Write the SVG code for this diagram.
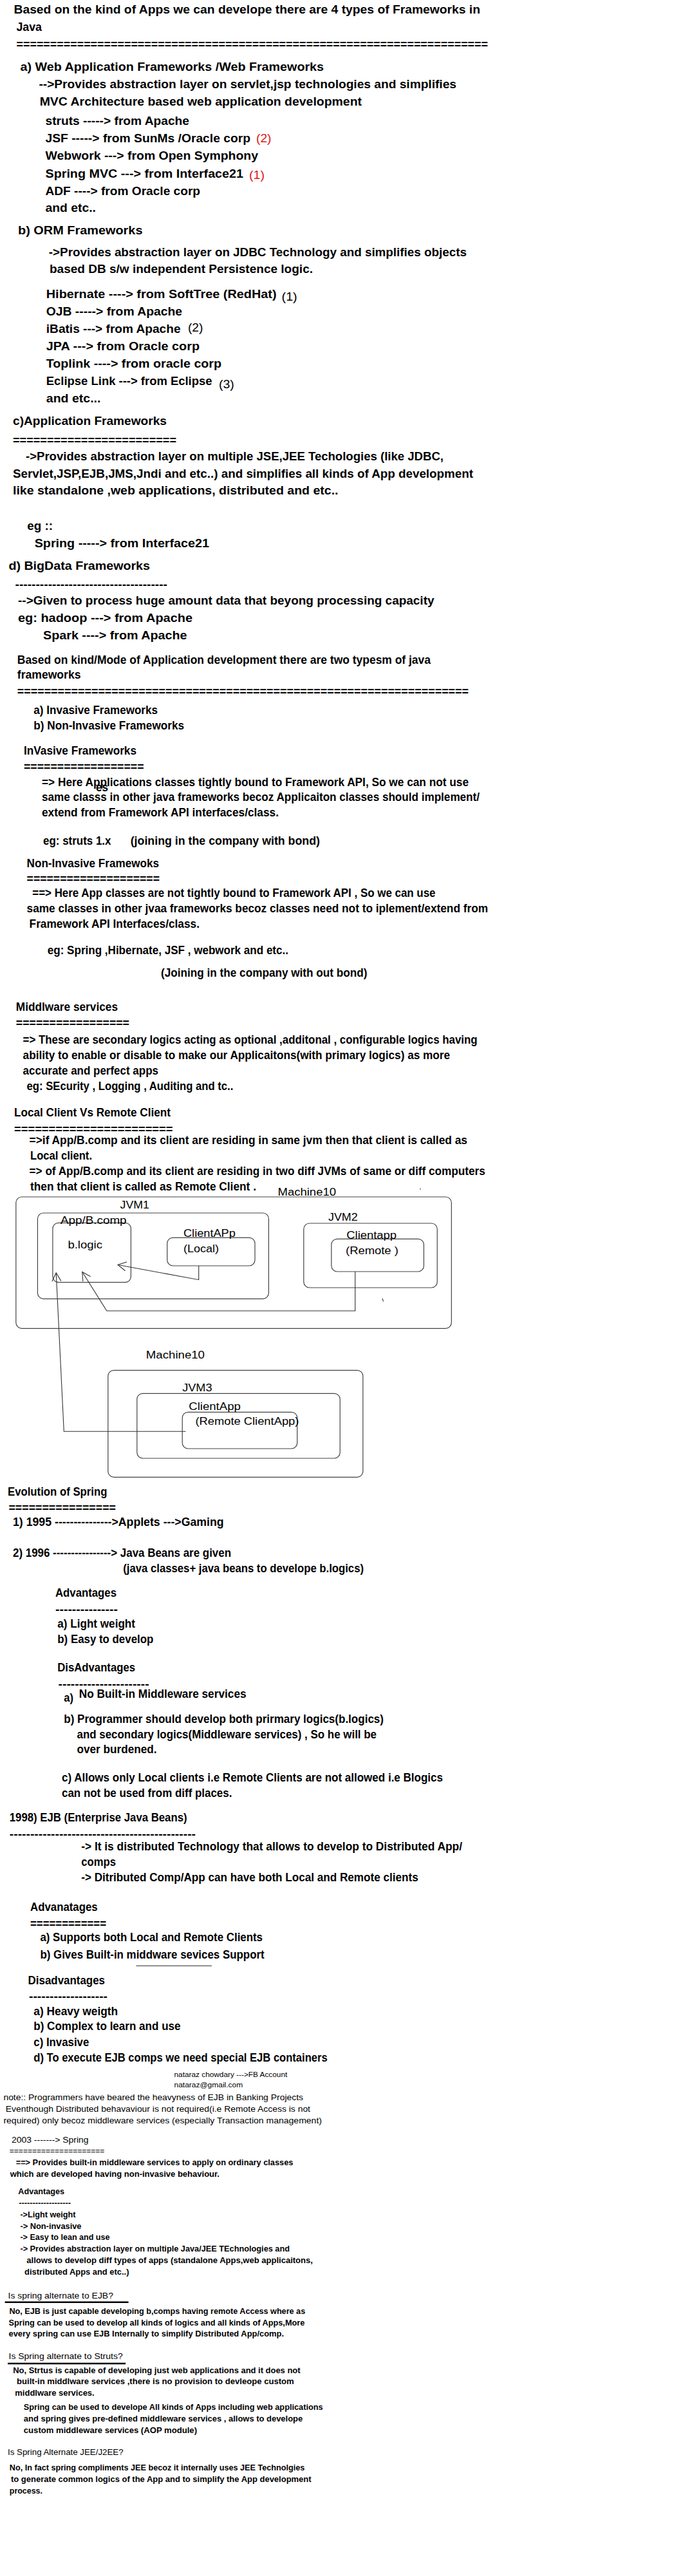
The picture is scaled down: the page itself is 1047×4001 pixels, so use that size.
<svg xmlns="http://www.w3.org/2000/svg" width="1047" height="4001" viewBox="0 0 1047 4001" xml:space="preserve">
<style>
text{font-family:"Liberation Sans",Arial,sans-serif;fill:#000;font-size:19px;font-weight:bold}
.r{font-weight:normal}
.red{fill:#e01818;font-weight:normal}
.lbl{font-size:16px;font-weight:normal}
.s{font-size:13px}
.sr{font-size:13px;font-weight:normal}
.n{font-size:12.5px;font-weight:normal}
.x{font-size:11px;font-weight:normal}
.box{fill:none;stroke:#444;stroke-width:1.2}
.con{fill:none;stroke:#333;stroke-width:1.1}
.ul{stroke:#000;stroke-width:2.5}
</style>
<defs>
<marker id="arr" markerUnits="userSpaceOnUse" markerWidth="18" markerHeight="18" refX="15" refY="9" orient="auto">
<path d="M2,2 L15,9 L2,16" fill="none" stroke="#333" stroke-width="1.1"/>
</marker>
</defs>
<rect width="1047" height="4001" fill="#fff"/>

<g id="frameworks-types">
<text x="21.5" y="21" textLength="724.5" lengthAdjust="spacingAndGlyphs">Based on  the kind of Apps we can develope there are 4 types of Frameworks in</text>
<text x="25.5" y="47.7" textLength="39.5" lengthAdjust="spacingAndGlyphs">Java</text>
<text x="25.5" y="75" textLength="732.5" lengthAdjust="spacingAndGlyphs">======================================================================</text>
<text x="31.5" y="110" textLength="471.5" lengthAdjust="spacingAndGlyphs">a) Web Application Frameworks /Web Frameworks</text>
<text x="60.4" y="136.7" textLength="648.6" lengthAdjust="spacingAndGlyphs">--&gt;Provides abstraction layer on  servlet,jsp technologies and simplifies</text>
<text x="61.7" y="164" textLength="500.3" lengthAdjust="spacingAndGlyphs">MVC Architecture based web application development</text>
<text x="70.5" y="194.3" textLength="223.5" lengthAdjust="spacingAndGlyphs">struts -----&gt; from Apache</text>
<text x="70.5" y="221" textLength="318.5" lengthAdjust="spacingAndGlyphs">JSF -----&gt; from  SunMs /Oracle corp</text>
<text class="red" x="398" y="220.5" textLength="23.5" lengthAdjust="spacingAndGlyphs">(2)</text>
<text x="70.5" y="248.3" textLength="330.5" lengthAdjust="spacingAndGlyphs">Webwork ---&gt; from Open Symphony</text>
<text x="70.5" y="275.7" textLength="307.5" lengthAdjust="spacingAndGlyphs">Spring MVC ---&gt; from  Interface21</text>
<text class="red" x="387" y="278.3" textLength="24" lengthAdjust="spacingAndGlyphs">(1)</text>
<text x="70.5" y="302.7" textLength="240.5" lengthAdjust="spacingAndGlyphs">ADF ----&gt; from Oracle corp</text>
<text x="70.5" y="329" textLength="78.5" lengthAdjust="spacingAndGlyphs">and etc..</text>

<text x="28" y="364.3" textLength="193.5" lengthAdjust="spacingAndGlyphs">b)  ORM Frameworks</text>
<text x="75.8" y="397.7" textLength="649.2" lengthAdjust="spacingAndGlyphs">-&gt;Provides abstraction layer on JDBC Technology and simplifies objects</text>
<text x="77" y="424.3" textLength="409" lengthAdjust="spacingAndGlyphs">based DB s/w independent Persistence logic.</text>
<text x="71.8" y="462.7" textLength="357.7" lengthAdjust="spacingAndGlyphs">Hibernate ----&gt; from  SoftTree (RedHat)</text>
<text class="r" x="437.6" y="466.7" textLength="24.1" lengthAdjust="spacingAndGlyphs">(1)</text>
<text x="71.8" y="490" textLength="211.2" lengthAdjust="spacingAndGlyphs">OJB -----&gt; from  Apache</text>
<text x="71.8" y="516.7" textLength="208.7" lengthAdjust="spacingAndGlyphs">iBatis ---&gt; from Apache</text>
<text class="r" x="292" y="515" textLength="23.4" lengthAdjust="spacingAndGlyphs">(2)</text>
<text x="71.8" y="544" textLength="238.2" lengthAdjust="spacingAndGlyphs">JPA  ---&gt;  from Oracle corp</text>
<text x="71.8" y="571" textLength="272.2" lengthAdjust="spacingAndGlyphs">Toplink ----&gt; from  oracle corp</text>
<text x="71.8" y="598.3" textLength="257.7" lengthAdjust="spacingAndGlyphs">Eclipse Link ---&gt; from Eclipse</text>
<text class="r" x="340" y="602.7" textLength="23.8" lengthAdjust="spacingAndGlyphs">(3)</text>
<text x="71.8" y="625" textLength="84.6" lengthAdjust="spacingAndGlyphs">and etc...</text>

<text x="20" y="660" textLength="239" lengthAdjust="spacingAndGlyphs">c)Application Frameworks</text>
<text x="20" y="689.5" textLength="254" lengthAdjust="spacingAndGlyphs">========================</text>
<text x="40" y="715" textLength="649" lengthAdjust="spacingAndGlyphs">-&gt;Provides abstraction layer on multiple JSE,JEE Techologies (like JDBC,</text>
<text x="20" y="741.7" textLength="715" lengthAdjust="spacingAndGlyphs">Servlet,JSP,EJB,JMS,Jndi and etc..) and simplifies all kinds of App development</text>
<text x="20" y="768.3" textLength="505.5" lengthAdjust="spacingAndGlyphs">like  standalone ,web applications, distributed and etc..</text>
<text x="42.3" y="823.3" textLength="39.7" lengthAdjust="spacingAndGlyphs">eg ::</text>
<text x="53.7" y="850" textLength="271.3" lengthAdjust="spacingAndGlyphs">Spring  -----&gt; from Interface21</text>

<text x="13.4" y="885" textLength="219.6" lengthAdjust="spacingAndGlyphs">d)  BigData Frameworks</text>
<text x="23.5" y="913.6" textLength="236.5" lengthAdjust="spacingAndGlyphs">-------------------------------------</text>
<text x="28" y="939.3" textLength="646.5" lengthAdjust="spacingAndGlyphs">--&gt;Given to process huge amount data that beyong processing capacity</text>
<text x="28" y="966" textLength="271" lengthAdjust="spacingAndGlyphs">eg:  hadoop ---&gt;  from Apache</text>
<text x="67" y="993.3" textLength="223.6" lengthAdjust="spacingAndGlyphs">Spark ----&gt;  from Apache</text>
</g>

<g id="invasive">
<text x="26.8" y="1031" textLength="642.2" lengthAdjust="spacingAndGlyphs">Based on kind/Mode of Application development there are two typesm of java</text>
<text x="26.8" y="1054.3" textLength="98.7" lengthAdjust="spacingAndGlyphs">frameworks</text>
<text x="26.8" y="1080" textLength="701.2" lengthAdjust="spacingAndGlyphs">===================================================================</text>
<text x="52.3" y="1109.3" textLength="192.7" lengthAdjust="spacingAndGlyphs">a) Invasive Frameworks</text>
<text x="52.3" y="1133.3" textLength="233.7" lengthAdjust="spacingAndGlyphs">b) Non-Invasive Frameworks</text>
<text x="37" y="1171.7" textLength="175" lengthAdjust="spacingAndGlyphs">InVasive Frameworks</text>
<text x="37" y="1196.8" textLength="186.5" lengthAdjust="spacingAndGlyphs">==================</text>
<text x="65" y="1220.7" textLength="663" lengthAdjust="spacingAndGlyphs">=&gt; Here  Applications classes  tightly bound to Framework  API, So we can not use</text>
<text x="149" y="1229" textLength="19" lengthAdjust="spacingAndGlyphs">es</text>
<text x="65" y="1244.3" textLength="680" lengthAdjust="spacingAndGlyphs">same classs in other java frameworks becoz  Applicaiton classes should implement/</text>
<text x="65" y="1268.3" textLength="368" lengthAdjust="spacingAndGlyphs">extend from Framework API interfaces/class.</text>
<text x="67" y="1311.7" textLength="105.5" lengthAdjust="spacingAndGlyphs">eg: struts 1.x</text>
<text x="202.7" y="1311.7" textLength="294.3" lengthAdjust="spacingAndGlyphs">(joining in  the  company with bond)</text>
<text x="41.6" y="1347" textLength="205.4" lengthAdjust="spacingAndGlyphs">Non-Invasive Framewoks</text>
<text x="41.6" y="1370.8" textLength="206.4" lengthAdjust="spacingAndGlyphs">====================</text>
<text x="50.3" y="1393.3" textLength="626.2" lengthAdjust="spacingAndGlyphs">==&gt; Here App classes are not tightly bound to Framework API , So we can use</text>
<text x="41.6" y="1416.7" textLength="716.4" lengthAdjust="spacingAndGlyphs">same classes in other jvaa frameworks becoz classes  need not to iplement/extend from</text>
<text x="45.6" y="1440.7" textLength="264.4" lengthAdjust="spacingAndGlyphs">Framework API Interfaces/class.</text>
<text x="73.8" y="1481.7" textLength="374.2" lengthAdjust="spacingAndGlyphs">eg:  Spring ,Hibernate, JSF , webwork and etc..</text>
<text x="250" y="1516.7" textLength="320.5" lengthAdjust="spacingAndGlyphs">(Joining in the company with out bond)</text>
</g>

<g id="middleware">
<text x="24.8" y="1570" textLength="158.2" lengthAdjust="spacingAndGlyphs">Middlware services</text>
<text x="24.8" y="1595" textLength="176.2" lengthAdjust="spacingAndGlyphs">=================</text>
<text x="35.6" y="1621" textLength="706" lengthAdjust="spacingAndGlyphs">=&gt; These  are secondary logics acting as optional ,additonal , configurable logics having</text>
<text x="35.6" y="1645" textLength="663.4" lengthAdjust="spacingAndGlyphs">ability to enable or disable to make our Applicaitons(with primary logics) as more</text>
<text x="35.6" y="1669" textLength="210.4" lengthAdjust="spacingAndGlyphs">accurate and perfect apps</text>
<text x="41.6" y="1693.3" textLength="320.8" lengthAdjust="spacingAndGlyphs">eg: SEcurity , Logging ,  Auditing and tc..</text>
</g>

<g id="local-remote">
<text x="22" y="1734.3" textLength="243" lengthAdjust="spacingAndGlyphs">Local Client Vs  Remote Client</text>
<text x="22" y="1759.5" textLength="246.5" lengthAdjust="spacingAndGlyphs">=======================</text>
<text x="45.6" y="1776.7" textLength="680.4" lengthAdjust="spacingAndGlyphs">=&gt;if App/B.comp  and its client are residing in same  jvm then that client is called as</text>
<text x="47" y="1800.7" textLength="96" lengthAdjust="spacingAndGlyphs">Local client.</text>
<text x="45.6" y="1825" textLength="708.1" lengthAdjust="spacingAndGlyphs">=&gt; of App/B.comp and its client are residing in two diff JVMs of same or diff computers</text>
<text x="47" y="1849" textLength="351" lengthAdjust="spacingAndGlyphs">then that client is called  as Remote Client .</text>
<circle cx="653" cy="1846.7" r="0.9" fill="#555"/>
</g>

<g id="machine10-top">
<text class="lbl" x="431.5" y="1856.7" textLength="90.5" lengthAdjust="spacingAndGlyphs">Machine10</text>
<rect class="box" x="24.8" y="1859" width="676.5" height="204.3" rx="9"/>
</g>
<g id="jvm1">
<text class="lbl" x="186.6" y="1877.3" textLength="45.4" lengthAdjust="spacingAndGlyphs">JVM1</text>
<rect class="box" x="58.4" y="1884" width="359" height="133.3" rx="9"/>
</g>
<g id="app-bcomp">
<rect class="box" x="81.9" y="1899.3" width="121.5" height="92.4" rx="9"/>
<text class="lbl" x="94" y="1901" textLength="102.6" lengthAdjust="spacingAndGlyphs">App/B.comp</text>
<text class="lbl" x="105.4" y="1939" textLength="53.6" lengthAdjust="spacingAndGlyphs">b.logic</text>
</g>
<g id="clientapp-local">
<rect class="box" x="259.7" y="1922.3" width="136.3" height="43.7" rx="9"/>
<text class="lbl" x="285" y="1921" textLength="80.8" lengthAdjust="spacingAndGlyphs">ClientAPp</text>
<text class="lbl" x="285" y="1945" textLength="55" lengthAdjust="spacingAndGlyphs">(Local)</text>
</g>
<g id="jvm2">
<text class="lbl" x="510" y="1895.7" textLength="45.7" lengthAdjust="spacingAndGlyphs">JVM2</text>
<rect class="box" x="471.8" y="1900" width="207.4" height="100" rx="9"/>
</g>
<g id="clientapp-remote">
<rect class="box" x="514.8" y="1924.3" width="143.6" height="50.7" rx="9"/>
<text class="lbl" x="538.3" y="1924.3" textLength="77.7" lengthAdjust="spacingAndGlyphs">Clientapp</text>
<text class="lbl" x="537" y="1947.7" textLength="81.8" lengthAdjust="spacingAndGlyphs">(Remote )</text>
</g>

<g id="machine10-bottom">
<text class="lbl" x="226.8" y="2110" textLength="91.2" lengthAdjust="spacingAndGlyphs">Machine10</text>
<rect class="box" x="167.8" y="2128.3" width="396" height="166" rx="9"/>
</g>
<g id="jvm3">
<text class="lbl" x="283.2" y="2160.7" textLength="46.3" lengthAdjust="spacingAndGlyphs">JVM3</text>
<rect class="box" x="212.8" y="2164.3" width="315.4" height="100.7" rx="9"/>
</g>
<g id="clientapp-remote2">
<rect class="box" x="283.2" y="2193.3" width="178.5" height="56.7" rx="9"/>
<text class="lbl" x="293.3" y="2190" textLength="80.5" lengthAdjust="spacingAndGlyphs">ClientApp</text>
<text class="lbl" x="303.4" y="2213.3" textLength="161" lengthAdjust="spacingAndGlyphs">(Remote ClientApp)</text>
</g>

<g id="connectors">
<polyline class="con" points="308.7,1966 308.7,1987.7 183,1964.5" marker-end="url(#arr)"/>
<polyline class="con" points="551.7,1975 551.7,2036 165.8,2036 127.8,1975.5" marker-end="url(#arr)"/>
<polyline class="con" points="288.6,2223.3 99.3,2223.3 87.2,1977" marker-end="url(#arr)"/>
<line class="con" x1="594" y1="2016.7" x2="595.5" y2="2021.7"/>
</g>

<g id="evolution">
<text x="12" y="2322.7" textLength="154.4" lengthAdjust="spacingAndGlyphs">Evolution of Spring</text>
<text x="13.4" y="2347.8" textLength="166.6" lengthAdjust="spacingAndGlyphs">================</text>
<text x="20" y="2370" textLength="327.6" lengthAdjust="spacingAndGlyphs">1) 1995 ---------------&gt;Applets   ---&gt;Gaming</text>
<text x="20" y="2418.3" textLength="339" lengthAdjust="spacingAndGlyphs">2) 1996 ----------------&gt; Java Beans are given</text>
<text x="191.3" y="2441.7" textLength="373.7" lengthAdjust="spacingAndGlyphs">(java classes+ java beans to develope b.logics)</text>
<text x="86" y="2480" textLength="95" lengthAdjust="spacingAndGlyphs">Advantages</text>
<text x="86" y="2506.3" textLength="97" lengthAdjust="spacingAndGlyphs">---------------</text>
<text x="89.3" y="2528.3" textLength="120.7" lengthAdjust="spacingAndGlyphs">a) Light weight</text>
<text x="89.3" y="2552.3" textLength="149" lengthAdjust="spacingAndGlyphs">b) Easy to develop</text>
<text x="89.3" y="2595.7" textLength="120.7" lengthAdjust="spacingAndGlyphs">DisAdvantages</text>
<text x="90.6" y="2622" textLength="141" lengthAdjust="spacingAndGlyphs">----------------------</text>
<text x="99.3" y="2643.3" textLength="14.7" lengthAdjust="spacingAndGlyphs">a)</text>
<text x="122.8" y="2636.7" textLength="259.8" lengthAdjust="spacingAndGlyphs">No Built-in Middleware services</text>
<text x="99.3" y="2676" textLength="496.7" lengthAdjust="spacingAndGlyphs">b) Programmer should develop both  prirmary logics(b.logics)</text>
<text x="119.5" y="2700" textLength="465.5" lengthAdjust="spacingAndGlyphs">and secondary logics(Middleware services) , So he will be</text>
<text x="119.5" y="2723.3" textLength="124.1" lengthAdjust="spacingAndGlyphs">over burdened.</text>
<text x="96" y="2767.3" textLength="592" lengthAdjust="spacingAndGlyphs">c) Allows only Local clients  i.e Remote Clients are not allowed i.e Blogics</text>
<text x="96" y="2791" textLength="264.4" lengthAdjust="spacingAndGlyphs">can not be used from diff places.</text>
</g>

<g id="ejb">
<text x="14.8" y="2829.3" textLength="275.8" lengthAdjust="spacingAndGlyphs">1998) EJB  (Enterprise Java Beans)</text>
<text x="14.8" y="2854.6" textLength="289.2" lengthAdjust="spacingAndGlyphs">---------------------------------------------</text>
<text x="126.2" y="2874.3" textLength="591.8" lengthAdjust="spacingAndGlyphs">-&gt; It is distributed Technology that allows to develop to Distributed App/</text>
<text x="126.2" y="2898.3" textLength="53.8" lengthAdjust="spacingAndGlyphs">comps</text>
<text x="126.2" y="2922.3" textLength="523.5" lengthAdjust="spacingAndGlyphs">-&gt; Ditributed Comp/App can have both Local and Remote clients</text>
<text x="47" y="2968.3" textLength="104.7" lengthAdjust="spacingAndGlyphs">Advanatages</text>
<text x="47" y="2994" textLength="118" lengthAdjust="spacingAndGlyphs">============</text>
<text x="62.4" y="3015" textLength="345.6" lengthAdjust="spacingAndGlyphs">a) Supports both Local and Remote Clients</text>
<text x="62.4" y="3041.7" textLength="348.3" lengthAdjust="spacingAndGlyphs">b) Gives Built-in middware sevices Support</text>
<line x1="211.4" y1="3053.3" x2="328.9" y2="3053.3" stroke="#8a8a8a" stroke-width="2"/>
<text x="43.6" y="3081.7" textLength="119.4" lengthAdjust="spacingAndGlyphs">Disadvantages</text>
<text x="45" y="3107.3" textLength="122" lengthAdjust="spacingAndGlyphs">-------------------</text>
<text x="52.3" y="3130" textLength="130.9" lengthAdjust="spacingAndGlyphs">a) Heavy weigth</text>
<text x="52.3" y="3153.3" textLength="228.2" lengthAdjust="spacingAndGlyphs">b) Complex to learn and use</text>
<text x="52.3" y="3177.7" textLength="86" lengthAdjust="spacingAndGlyphs">c) Invasive</text>
<text x="52.3" y="3201.7" textLength="456.4" lengthAdjust="spacingAndGlyphs">d) To execute EJB comps we need special EJB containers</text>
<text class="x" x="270.5" y="3225.7" textLength="175.8" lengthAdjust="spacingAndGlyphs">nataraz chowdary ---&gt;FB Account</text>
<text class="x" x="270.5" y="3241.7" textLength="106.7" lengthAdjust="spacingAndGlyphs">nataraz@gmail.com</text>
<text class="n" x="5.4" y="3262.3" textLength="465.6" lengthAdjust="spacingAndGlyphs">note::  Programmers  have beared the  heavyness of EJB in Banking Projects</text>
<text class="n" x="8.7" y="3280" textLength="473.3" lengthAdjust="spacingAndGlyphs">Eventhough Distributed behavaviour is not required(i.e Remote Access is not</text>
<text class="n" x="5.4" y="3297.7" textLength="494.6" lengthAdjust="spacingAndGlyphs">required) only becoz middleware services (especially  Transaction management)</text>
</g>

<g id="spring-2003">
<text class="n" x="18" y="3328.3" textLength="119.6" lengthAdjust="spacingAndGlyphs">2003  -------&gt; Spring</text>
<text class="n" x="14.8" y="3345.2" textLength="147.6" lengthAdjust="spacingAndGlyphs">=====================</text>
<text class="s" x="24.7" y="3363.3" textLength="430.7" lengthAdjust="spacingAndGlyphs">==&gt; Provides built-in middleware services to apply on ordinary classes</text>
<text class="s" x="15.7" y="3381" textLength="325.3" lengthAdjust="spacingAndGlyphs">which are developed having  non-invasive behaviour.</text>
<text class="s" x="28.3" y="3408.3" textLength="71.7" lengthAdjust="spacingAndGlyphs">Advantages</text>
<text class="s" x="29.2" y="3426" textLength="80.8" lengthAdjust="spacingAndGlyphs">-------------------</text>
<text class="s" x="31.4" y="3444" textLength="86.1" lengthAdjust="spacingAndGlyphs">-&gt;Light weight</text>
<text class="s" x="31.4" y="3461.7" textLength="95.1" lengthAdjust="spacingAndGlyphs">-&gt; Non-invasive</text>
<text class="s" x="31.4" y="3479.3" textLength="139.1" lengthAdjust="spacingAndGlyphs">-&gt; Easy to lean and use</text>
<text class="s" x="31.4" y="3497.3" textLength="418.6" lengthAdjust="spacingAndGlyphs">-&gt; Provides abstraction layer on multiple Java/JEE  TEchnologies and</text>
<text class="s" x="41.3" y="3515" textLength="444.6" lengthAdjust="spacingAndGlyphs">allows to develop diff types  of apps (standalone Apps,web applicaitons,</text>
<text class="s" x="38.1" y="3532.7" textLength="162.4" lengthAdjust="spacingAndGlyphs">distributed Apps and etc..)</text>
</g>

<g id="faq">
<text class="sr" x="12.6" y="3570" textLength="163.3" lengthAdjust="spacingAndGlyphs">Is  spring  alternate to EJB?</text>
<line class="ul" x1="7.6" y1="3575.7" x2="199.6" y2="3575.7"/>
<text class="s" x="14.4" y="3594" textLength="459.8" lengthAdjust="spacingAndGlyphs">No,  EJB is just capable developing b,comps having remote Access where as</text>
<text class="s" x="13.5" y="3611.7" textLength="459.8" lengthAdjust="spacingAndGlyphs">Spring can be used to develop all kinds of logics and all kinds of Apps,More</text>
<text class="s" x="13.5" y="3629.3" textLength="427.5" lengthAdjust="spacingAndGlyphs">every spring can use EJB Internally to simplify  Distributed App/comp.</text>
<text class="sr" x="13.5" y="3664.3" textLength="177.2" lengthAdjust="spacingAndGlyphs">Is  Spring alternate to Struts?</text>
<line class="ul" x1="12.1" y1="3671" x2="195.2" y2="3671"/>
<text class="s" x="20.2" y="3685.7" textLength="446.4" lengthAdjust="spacingAndGlyphs">No,  Strtus is capable of developing just web applications  and it does not</text>
<text class="s" x="26" y="3703.3" textLength="430.7" lengthAdjust="spacingAndGlyphs">built-in middlware services ,there  is no provision  to devleope custom</text>
<text class="s" x="23.3" y="3720.7" textLength="123.4" lengthAdjust="spacingAndGlyphs">middlware services.</text>
<text class="s" x="36.8" y="3743.3" textLength="464.8" lengthAdjust="spacingAndGlyphs">Spring can be used to develope All kinds of Apps including web applications</text>
<text class="s" x="36.8" y="3761" textLength="433.4" lengthAdjust="spacingAndGlyphs">and spring gives pre-defined middleware services , allows to  develope</text>
<text class="s" x="36.8" y="3779" textLength="269.2" lengthAdjust="spacingAndGlyphs">custom middleware services  (AOP module)</text>
<text class="sr" x="12.1" y="3812.7" textLength="179.5" lengthAdjust="spacingAndGlyphs">Is  Spring Alternate JEE/J2EE?</text>
<text class="s" x="14.8" y="3837.3" textLength="458.5" lengthAdjust="spacingAndGlyphs">No,   In fact spring compliments JEE becoz it internally uses JEE Technolgies</text>
<text class="s" x="17" y="3855" textLength="466.6" lengthAdjust="spacingAndGlyphs">to generate common logics of the App and to simplify the App development</text>
<text class="s" x="14.8" y="3872.7" textLength="51.2" lengthAdjust="spacingAndGlyphs">process.</text>
</g>
</svg>
